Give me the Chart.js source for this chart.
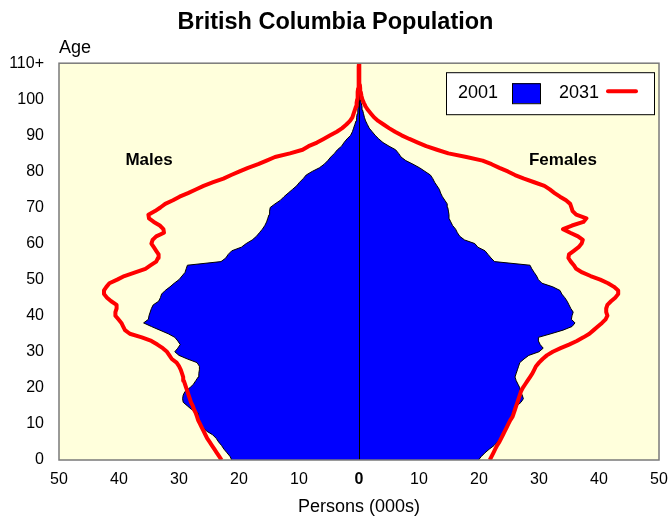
<!DOCTYPE html>
<html>

<head>
    <title>British Columbia Population</title>
    <script src="https://cdn.jsdelivr.net/npm/chart.js"></script>
    <style>
        body {
            margin: 0;
            background-color: #ffffff;
        }
    </style>
</head>

<body>
    <canvas id="pyramidChart" width="670" height="518"></canvas>

    <script>
        // single years of age, 0 .. 110+
        const ages = [];
        for (let a = 0; a <= 110; a++) ages.push(a);

        // persons (000s)
        const male2001 = [
            21.2, 21.5, 22.0, 22.5, 22.9, 23.4, 23.8, 24.4, 25.4, 26.0,
            26.3, 26.6, 26.9, 26.8, 27.9, 28.6, 29.3, 29.4, 29.3, 29.0,
            28.2, 27.6, 27.2, 26.8, 26.7, 26.6, 26.6, 27.0, 28.6, 30.0,
            30.7, 30.2, 29.8, 30.2, 30.7, 31.8, 33.2, 34.6, 35.9, 35.1,
            35.0, 34.8, 34.6, 34.3, 33.4, 33.1, 32.9, 32.3, 31.5, 30.8,
            30.0, 29.5, 29.0, 28.8, 28.6, 23.0, 22.2, 21.8, 21.2, 19.6,
            18.8, 17.8, 17.1, 16.6, 16.1, 15.7, 15.4, 15.2, 15.0, 14.9,
            14.8, 14.0, 13.1, 12.5, 11.8, 11.1, 10.4, 9.9, 9.3, 8.8,
            7.8, 6.6, 5.8, 5.2, 4.7, 4.1, 3.6, 2.9, 2.5, 2.0,
            1.4, 1.1, 0.9, 0.7, 0.5, 0.4, 0.3, 0.2, 0.15, 0.1,
            0.05, 0.03, 0.02, 0.01, 0, 0, 0, 0, 0, 0, 0
        ];
        const female2001 = [
            19.9, 20.4, 21.0, 21.7, 22.5, 23.1, 23.5, 24.0, 24.4, 24.7,
            25.0, 25.2, 25.4, 25.6, 25.8, 26.3, 27.0, 27.4, 27.2, 26.9,
            26.8, 26.5, 26.2, 26.0, 26.2, 26.4, 26.6, 26.8, 27.5, 28.3,
            30.0, 30.7, 30.2, 29.9, 29.9, 32.0, 34.0, 35.5, 36.0, 35.4,
            35.5, 35.7, 35.3, 35.0, 34.7, 34.3, 33.8, 33.5, 32.3, 30.5,
            29.9, 29.6, 29.2, 28.8, 28.5, 22.6, 22.0, 21.5, 21.0, 19.8,
            19.3, 17.6, 16.8, 16.4, 16.1, 15.6, 15.3, 15.0, 15.0, 14.9,
            14.8, 14.7, 14.3, 13.9, 13.6, 13.4, 13.0, 12.6, 12.3, 11.9,
            11.0, 10.1, 9.0, 7.8, 7.0, 6.6, 6.1, 5.0, 4.0, 3.3,
            2.7, 2.2, 1.7, 1.4, 1.1, 0.9, 0.75, 0.6, 0.5, 0.35,
            0.2, 0.1, 0.05, 0.03, 0.02, 0.01, 0, 0, 0, 0, 0
        ];
        const male2031 = [
            22.9, 23.3, 23.7, 24.1, 24.5, 24.9, 25.3, 25.6, 25.9, 26.2,
            26.5, 26.8, 27.0, 27.2, 27.5, 27.7, 28.0, 28.2, 28.4, 28.6,
            28.8, 29.0, 29.2, 29.3, 29.5, 29.7, 30.0, 30.4, 31.2, 31.6,
            32.0, 32.7, 33.6, 34.6, 36.2, 38.2, 39.0, 39.3, 39.6, 40.1,
            40.6, 40.6, 40.4, 40.4, 41.3, 42.0, 42.5, 42.5, 42.1, 41.6,
            40.3, 39.1, 37.3, 35.6, 34.7, 33.8, 33.5, 33.4, 33.8, 34.2,
            34.6, 34.4, 33.8, 32.5, 32.6, 33.2, 34.2, 35.0, 35.1, 34.0,
            33.1, 32.3, 31.0, 29.9, 28.5, 27.2, 25.9, 24.3, 22.6, 21.3,
            19.9, 18.5, 16.8, 15.4, 14.0, 11.5, 9.4, 8.4, 7.0, 5.9,
            4.8, 3.7, 2.8, 2.1, 1.5, 1.1, 0.9, 0.7, 0.5, 0.4,
            0.3, 0.25, 0.2, 0.15, 0.1, 0.08, 0.06, 0.04, 0.03, 0.02, 0
        ];
        const female2031 = [
            21.8, 22.1, 22.4, 22.7, 23.0, 23.4, 23.7, 24.0, 24.3, 24.6,
            24.9, 25.2, 25.6, 25.8, 26.0, 26.2, 26.4, 26.6, 26.8, 27.0,
            27.3, 27.7, 28.1, 28.5, 28.9, 29.2, 29.5, 30.0, 30.6, 31.3,
            32.3, 33.6, 35.0, 36.3, 37.4, 38.4, 39.1, 39.8, 40.5, 41.1,
            41.4, 41.2, 41.2, 41.4, 42.0, 42.7, 43.2, 43.2, 42.5, 41.5,
            40.2, 38.6, 37.2, 36.2, 35.8, 35.3, 34.9, 35.0, 35.8, 36.6,
            37.1, 37.3, 36.5, 35.2, 34.0, 35.5, 37.4, 37.9, 36.2, 35.6,
            35.4, 35.2, 34.5, 33.5, 32.6, 31.8, 30.9, 29.2, 27.5, 26.0,
            24.8, 23.4, 22.1, 20.6, 17.9, 14.9, 13.0, 11.2, 9.8, 8.4,
            7.1, 6.0, 5.0, 4.1, 3.2, 2.5, 2.0, 1.5, 1.1, 0.8,
            0.55, 0.4, 0.3, 0.2, 0.15, 0.1, 0.08, 0.06, 0.04, 0.02, 0
        ];

        const xTicks = [-50, -40, -30, -20, -10, 0, 10, 20, 30, 40, 50];
        const yTicks = [0, 10, 20, 30, 40, 50, 60, 70, 80, 90, 100, 110];

        const FONT = "'Liberation Sans', Arial, sans-serif";

        // males go to the left of zero
        function toPoints(values, side) {
            return ages.map((age, i) => ({ x: side * values[i], y: age }));
        }

        const decor = {
            id: 'decor',
            beforeDraw(chart) {
                const { ctx, chartArea: a } = chart;
                ctx.save();
                ctx.fillStyle = '#ffffdc';
                ctx.fillRect(a.left, a.top, a.right - a.left, a.bottom - a.top);
                ctx.restore();
            },
            afterDatasetDraw(chart, args) {
                // centre line sits above the blue areas, under the red lines
                if (args.index !== 2) return;
                const { ctx, chartArea: a, scales } = chart;
                const x0 = Math.round(scales.x.getPixelForValue(0)) + 0.5;
                ctx.save();
                ctx.strokeStyle = '#000000';
                ctx.lineWidth = 1;
                ctx.beginPath();
                ctx.moveTo(x0, a.top);
                ctx.lineTo(x0, a.bottom);
                ctx.stroke();
                ctx.restore();
            },
            afterDraw(chart) {
                const { ctx, chartArea: a, scales } = chart;
                ctx.save();

                // plot frame
                ctx.strokeStyle = '#7a7a7a';
                ctx.lineWidth = 1.5;
                ctx.strokeRect(a.left, a.top, a.right - a.left, a.bottom - a.top);

                // axis caption above the age ticks
                ctx.fillStyle = '#000000';
                ctx.font = '18px ' + FONT;
                ctx.textAlign = 'left';
                ctx.textBaseline = 'middle';
                ctx.fillText('Age', a.left, 48);

                // sex labels
                ctx.font = 'bold 17px ' + FONT;
                ctx.textAlign = 'center';
                ctx.fillText('Males', scales.x.getPixelForValue(-35), scales.y.getPixelForValue(83));
                ctx.fillText('Females', scales.x.getPixelForValue(34), scales.y.getPixelForValue(83));

                // legend box
                const lx = a.right - 213, ly = a.top + 9, lw = 208, lh = 42;
                ctx.fillStyle = '#ffffff';
                ctx.fillRect(lx, ly, lw, lh);
                ctx.strokeStyle = '#000000';
                ctx.lineWidth = 1;
                ctx.strokeRect(lx + 0.5, ly + 0.5, lw, lh);

                ctx.font = '18px ' + FONT;
                ctx.textAlign = 'left';
                ctx.fillStyle = '#000000';
                ctx.fillText('2001', lx + 12, ly + 21);
                ctx.fillStyle = '#0000ff';
                ctx.fillRect(lx + 66, ly + 11, 28, 20);
                ctx.strokeRect(lx + 66.5, ly + 11.5, 28, 20);
                ctx.fillStyle = '#000000';
                ctx.fillText('2031', lx + 113, ly + 21);
                ctx.strokeStyle = '#ff0000';
                ctx.lineWidth = 4;
                ctx.lineCap = 'round';
                ctx.beginPath();
                ctx.moveTo(lx + 162, ly + 19);
                ctx.lineTo(lx + 190, ly + 19);
                ctx.stroke();

                ctx.restore();
            }
        };

        const ctx = document.getElementById('pyramidChart').getContext('2d');
        const pyramidChart = new Chart(ctx, {
            type: 'line',
            data: {
                datasets: [{
                    label: '2031 Males',
                    data: toPoints(male2031, -1),
                    borderColor: '#ff0000',
                    borderWidth: 4,
                    borderJoinStyle: 'round',
                    pointRadius: 0,
                    fill: false,
                    tension: 0
                }, {
                    label: '2031 Females',
                    data: toPoints(female2031, 1),
                    borderColor: '#ff0000',
                    borderWidth: 4,
                    borderJoinStyle: 'round',
                    pointRadius: 0,
                    fill: false,
                    tension: 0
                }, {
                    label: '2001 Males',
                    data: toPoints(male2001, -1),
                    borderColor: '#000000',
                    borderWidth: 1,
                    backgroundColor: '#0000ff',
                    pointRadius: 0,
                    fill: 'origin',
                    tension: 0
                }, {
                    label: '2001 Females',
                    data: toPoints(female2001, 1),
                    borderColor: '#000000',
                    borderWidth: 1,
                    backgroundColor: '#0000ff',
                    pointRadius: 0,
                    fill: 'origin',
                    tension: 0
                }]
            },
            options: {
                indexAxis: 'y',
                responsive: false,
                animation: false,
                layout: {
                    padding: { left: 1, right: 0, top: 0, bottom: 0 }
                },
                plugins: {
                    legend: { display: false },
                    tooltip: { enabled: false },
                    title: {
                        display: true,
                        text: 'British Columbia Population',
                        color: '#000000',
                        font: { family: FONT, size: 23.5, weight: 'bold' },
                        padding: { top: 8, bottom: 27 }
                    }
                },
                scales: {
                    x: {
                        type: 'linear',
                        min: xTicks[0],
                        max: xTicks[xTicks.length - 1],
                        grid: { display: false, drawTicks: false },
                        border: { display: false },
                        afterBuildTicks(scale) {
                            scale.ticks = xTicks.map(v => ({ value: v }));
                        },
                        ticks: {
                            padding: 10,
                            color: '#000000',
                            maxRotation: 0,
                            font: ctx => ({
                                family: FONT,
                                size: 16,
                                weight: ctx.tick && ctx.tick.value === 0 ? 'bold' : 'normal'
                            }),
                            callback: v => Math.abs(v)
                        },
                        title: {
                            display: true,
                            text: 'Persons (000s)',
                            color: '#000000',
                            font: { family: FONT, size: 18 },
                            padding: { top: 0, bottom: 0 }
                        },
                        afterFit(scale) {
                            scale.height = 58;
                            scale.paddingLeft = 0;
                            scale.paddingRight = 11;
                        }
                    },
                    y: {
                        type: 'linear',
                        min: yTicks[0],
                        max: yTicks[yTicks.length - 1],
                        grid: { display: false, drawTicks: false },
                        border: { display: false },
                        afterBuildTicks(scale) {
                            scale.ticks = yTicks.map(v => ({ value: v }));
                        },
                        ticks: {
                            padding: 15,
                            color: '#000000',
                            font: { family: FONT, size: 16 },
                            callback: v => (v === 110 ? '110+' : v)
                        },
                        afterFit(scale) {
                            scale.width = 58;
                        }
                    }
                }
            },
            plugins: [decor]
        });
    </script>
</body>

</html>
